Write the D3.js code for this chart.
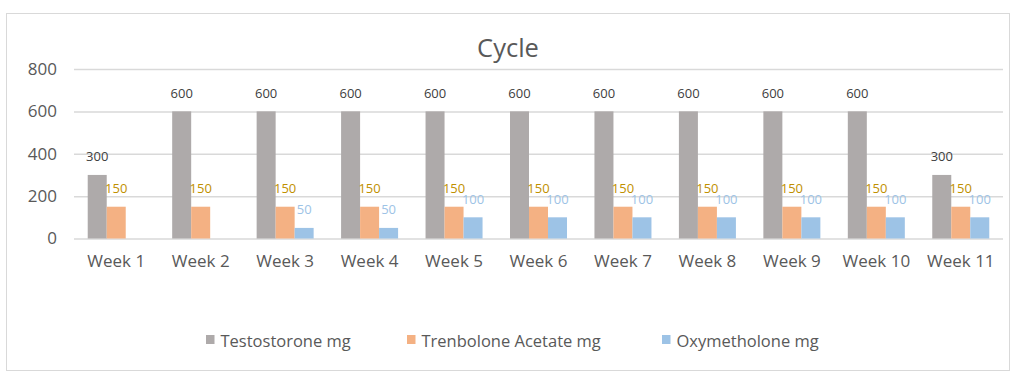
<!DOCTYPE html>
<html>
<head>
<meta charset="utf-8">
<script src="https://cdn.jsdelivr.net/npm/d3@7"></script>
<style>
  html, body { margin: 0; padding: 0; background: #fff; }
  svg { display: block; }
  text { font-family: "Open Sans", "Noto Sans", sans-serif; }
</style>
</head>
<body>
<script>
const categories = ["Week 1","Week 2","Week 3","Week 4","Week 5","Week 6","Week 7","Week 8","Week 9","Week 10","Week 11"];
const seriesNames = ["Testostorone mg","Trenbolone Acetate mg","Oxymetholone mg"];
const testosterone = [300,600,600,600,600,600,600,600,600,600,300];
const trenbolone = [150,150,150,150,150,150,150,150,150,150,150];
const oxymetholone = [0,0,50,50,100,100,100,100,100,100,100];
const yTicks = [0,200,400,600,800];
const barColors = ["#AEAAAA","#F4B183","#9DC3E6"];
const labelColors = ["#404040","#BF9000","#9DC3E6"];

const W = 1024, H = 379;
const svg = d3.select("body").append("svg").attr("width", W).attr("height", H);

// chart border
svg.append("rect").attr("x", 6.5).attr("y", 13.5).attr("width", 1003).attr("height", 357)
  .attr("fill", "#fff").attr("stroke", "#D9D9D9").attr("stroke-width", 1);

const plot = {left: 74, right: 1003, top: 69, bottom: 238.5};
const y = d3.scaleLinear().domain([0, 800]).range([plot.bottom, plot.top]);
const x0 = d3.scaleBand().domain(categories).range([plot.left, plot.right]).paddingInner(0.325).paddingOuter(0.1625);
const x1 = d3.scaleBand().domain(d3.range(3)).range([0, x0.bandwidth()]);

// gridlines
const yAxis = d3.axisLeft(y).tickValues(yTicks).tickSize(-(plot.right - plot.left)).tickPadding(17);
const gy = svg.append("g").attr("transform", `translate(${plot.left},0)`).call(yAxis);
gy.select(".domain").remove();
gy.selectAll(".tick line").attr("stroke", "#D9D9D9").attr("stroke-width", 1.5);
gy.selectAll(".tick text").attr("fill", "#595959").style("font-size", "17px").style("font-family", "'Open Sans', sans-serif");

// x axis labels
const xAxis = d3.axisBottom(x0).tickSize(0).tickPadding(16);
const gx = svg.append("g").attr("transform", `translate(0,${plot.bottom})`).call(xAxis);
gx.select(".domain").remove();
gx.selectAll(".tick text").attr("fill", "#595959").style("font-size", "17px").style("font-family", "'Open Sans', sans-serif");

const series = [testosterone, trenbolone, oxymetholone];
const data = categories.map((c, i) => ({cat: c, vals: series.map(s => s[i])}));

const groups = svg.append("g").selectAll("g").data(data).join("g")
  .attr("transform", d => `translate(${x0(d.cat)},0)`);

groups.selectAll("rect").data(d => d.vals.map((v, k) => ({v, k})).filter(e => e.v > 0)).join("rect")
  .attr("x", e => x1(e.k))
  .attr("width", x1.bandwidth())
  .attr("y", e => y(e.v))
  .attr("height", e => y(0) - y(e.v))
  .attr("fill", e => barColors[e.k]);

groups.selectAll("text.lbl").data(d => d.vals.map((v, k) => ({v, k})).filter(e => e.v > 0)).join("text")
  .attr("class", "lbl")
  .attr("x", e => x1(e.k) + x1.bandwidth() / 2)
  .attr("y", e => y(e.v) - 13.5)
  .attr("text-anchor", "middle")
  .attr("fill", e => labelColors[e.k])
  .style("font-size", "13px")
  .text(e => e.v);

// title
svg.append("text").attr("x", 508).attr("y", 57).attr("text-anchor", "middle")
  .attr("fill", "#595959").style("font-size", "25.5px").text("Cycle");

// legend
const legendX = [206, 407, 662];
const lg = svg.append("g").selectAll("g").data(seriesNames).join("g")
  .attr("transform", (d, i) => `translate(${legendX[i]},335)`);
lg.append("rect").attr("width", 8.5).attr("height", 9).attr("y", 0).attr("fill", (d, i) => barColors[i]);
lg.append("text").attr("x", 14.5).attr("y", 11.5).attr("fill", "#595959").style("font-size", "16.5px").text(d => d);
</script>
</body>
</html>
